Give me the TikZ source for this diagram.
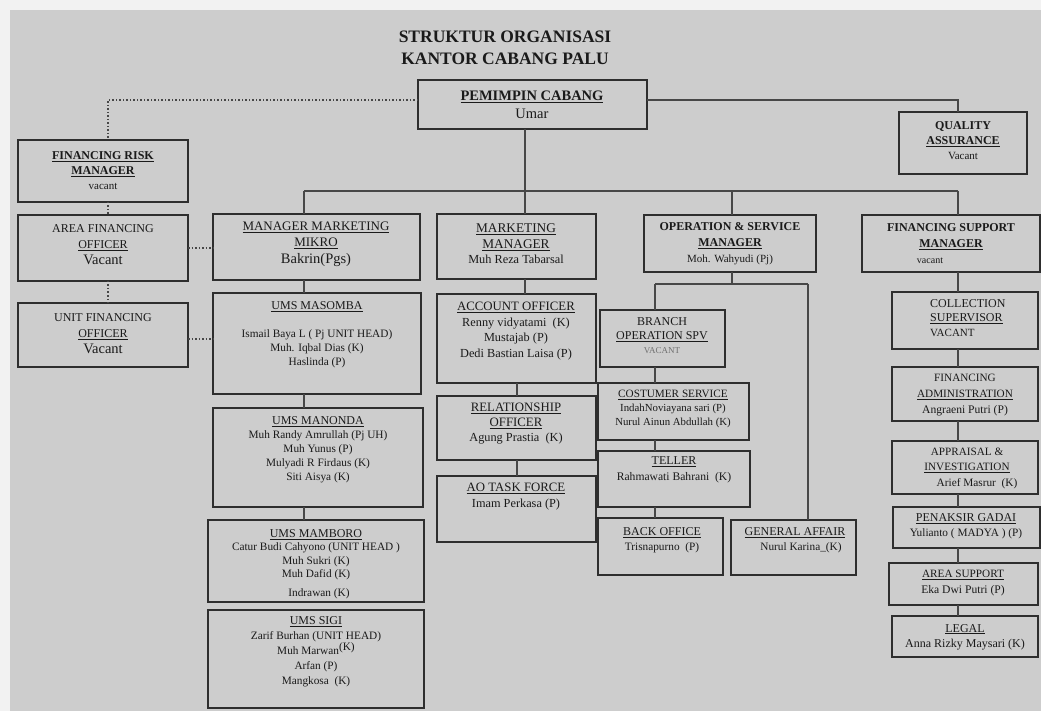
\documentclass[tikz,border=0pt]{standalone}
\usepackage{fontspec}
\setmainfont{Liberation Serif}
\usetikzlibrary{calc}
\definecolor{bgc}{HTML}{CDCDCD}
\definecolor{outc}{HTML}{F2F2F2}
\definecolor{boxc}{HTML}{2E2E2E}
\definecolor{linec}{HTML}{474747}
\definecolor{txtc}{HTML}{1A1A1A}
\definecolor{softc}{HTML}{707070}
\newcommand\xNm{\fontsize{11}{15}\selectfont}
\newcommand\xHd{\fontsize{12}{15}\selectfont}
\newcommand\xHm{\fontsize{12.8}{15}\selectfont}
\newcommand\xHr{\fontsize{11.2}{15}\selectfont}
\newcommand\xBg{\fontsize{14.5}{16}\selectfont}
\newcommand\mkbox[5]{\node[obox, anchor=north west, minimum width={(#4)-(#2)}, minimum height={(#5)-(#3)}] (#1) at (#2,#3) {};}
\tikzset{
  obox/.style={draw=boxc, line width=1.5pt, inner sep=0pt, outer sep=0pt},
  otxt/.style={align=center, text=txtc, inner sep=0pt, font=\xNm},
  conn/.style={draw=linec, line width=1.4pt},
  dconn/.style={draw=linec, line width=1.1pt, dash pattern=on 1.5pt off 2pt},
}
\begin{document}
\begin{tikzpicture}[x=1pt,y=-1pt]
\useasboundingbox (0,0) rectangle (1041,711);
\fill[outc] (0,0) rectangle (1041,711);
\fill[bgc] (10,10) rectangle (1041,711);

% title
\node[otxt, font=\bfseries\fontsize{17.5}{22}\selectfont] (title) at (505,48) {STRUKTUR ORGANISASI\\KANTOR CABANG PALU};

% boxes
\mkbox{pem}{418}{80}{647}{129}
\mkbox{qa}{899}{112}{1027}{174}
\mkbox{frm}{18}{140}{188}{202}
\mkbox{afo}{18}{215}{188}{281}
\mkbox{ufo}{18}{303}{188}{367}
\mkbox{mmm}{213}{214}{420}{280}
\mkbox{masomba}{213}{293}{421}{394}
\mkbox{manonda}{213}{408}{423}{507}
\mkbox{mamboro}{208}{520}{424}{602}
\mkbox{sigi}{208}{610}{424}{708}
\mkbox{mm}{437}{214}{596}{279}
\mkbox{ao}{437}{294}{596}{383}
\mkbox{ro}{437}{396}{596}{460}
\mkbox{aotf}{437}{476}{596}{542}
\mkbox{osm}{644}{215}{816}{272}
\mkbox{bos}{600}{310}{725}{367}
\mkbox{cs}{598}{383}{749}{440}
\mkbox{teller}{598}{451}{750}{507}
\mkbox{bo}{598}{518}{723}{575}
\mkbox{ga}{731}{520}{856}{575}
\mkbox{fsm}{862}{215}{1040}{272}
\mkbox{coll}{892}{292}{1038}{349}
\mkbox{fa}{892}{367}{1038}{421}
\mkbox{app}{892}{441}{1038}{494}
\mkbox{pen}{893}{507}{1040}{548}
\mkbox{asup}{889}{563}{1038}{605}
\mkbox{legal}{892}{616}{1038}{657}

% texts
\node[otxt, font=\fontsize{14.5}{18}\selectfont] (pemT) at (532,105) {{\bfseries\underline{PEMIMPIN CABANG}}\\{\xBg Umar}};
\node[otxt] (qaT) at (963,141) {{\bfseries\xHd QUALITY}\\{\bfseries\xHd\underline{ASSURANCE}}\\Vacant};
\node[otxt] (frmT) at (103,171) {{\bfseries\xHd\underline{FINANCING RISK}}\\{\bfseries\xHd\underline{MANAGER}}\\vacant};
\node[otxt, font=\fontsize{11}{16}\selectfont] (afoT) at (103,245) {{\xHd AREA FINANCING}\\{\xHd\underline{OFFICER}}\\{\xBg Vacant}};
\node[otxt, font=\fontsize{11}{16}\selectfont] (ufoT) at (103,334) {{\xHd UNIT FINANCING}\\{\xHd\underline{OFFICER}}\\{\xBg Vacant}};
\node[otxt, font=\fontsize{11}{16.5}\selectfont] (mmmT) at (316,244) {{\fontsize{13}{15}\selectfont\underline{MANAGER MARKETING}}\\{\fontsize{13}{15}\selectfont\underline{MIKRO}}\\{\xBg Bakrin(Pgs)}};
\node[otxt, font=\fontsize{11.3}{14}\selectfont] (masombaT) at (317,335) {{\xHd\underline{UMS MASOMBA}}\\[14pt]Ismail Baya L ( Pj UNIT HEAD)\\Muh. Iqbal Dias (K)\\Haslinda (P)};
\node[otxt, font=\fontsize{11.3}{14}\selectfont] (manondaT) at (318,450) {{\xHd\underline{UMS MANONDA}}\\Muh Randy Amrullah (Pj UH)\\Muh Yunus (P)\\Mulyadi R Firdaus (K)\\Siti Aisya (K)};
\node[otxt, font=\fontsize{11.3}{13.5}\selectfont] (mamboroT) at (316,564) {{\xHd\underline{UMS MAMBORO}}\\Catur Budi Cahyono (UNIT HEAD )\\Muh Sukri (K)\\Muh Dafid (K)\\[5pt]\hspace*{6pt}Indrawan (K)};
\node[otxt, font=\fontsize{11.3}{15}\selectfont] (sigiT) at (316,652) {{\xHd\underline{UMS SIGI}}\\Zarif Burhan (UNIT HEAD)\\Muh Marwan\raisebox{4pt}{(K)}\\Arfan (P)\\Mangkosa\ \ (K)};
\node[otxt, font=\fontsize{12.3}{15.5}\selectfont] (mmT) at (516,244) {{\fontsize{13.3}{15}\selectfont\underline{MARKETING}}\\{\fontsize{13.3}{15}\selectfont\underline{MANAGER}}\\Muh Reza Tabarsal};
\node[otxt, font=\fontsize{12.3}{15.5}\selectfont] (aoT) at (516,331) {{\xHm\underline{ACCOUNT OFFICER}}\\Renny vidyatami\ \ (K)\\Mustajab (P)\\Dedi Bastian Laisa (P)};
\node[otxt, font=\fontsize{12.3}{15}\selectfont] (roT) at (516,424) {{\xHm\underline{RELATIONSHIP}}\\{\xHm\underline{OFFICER}}\\Agung Prastia\ \ (K)};
\node[otxt, font=\fontsize{12.3}{16}\selectfont] (aotfT) at (516,497) {{\xHm\underline{AO TASK FORCE}}\\Imam Perkasa (P)};
\node[otxt, font=\fontsize{11}{16}\selectfont] (osmT) at (730,244) {{\bfseries\xHd OPERATION \& SERVICE}\\{\bfseries\xHd\underline{MANAGER}}\\Moh. Wahyudi (Pj)};
\node[otxt, font=\fontsize{11}{14}\selectfont] (bosT) at (662,336) {{\xHd BRANCH}\\{\xHd\underline{OPERATION SPV}}\\{\fontsize{9}{10}\selectfont\color{softc}VACANT}};
\node[otxt, font=\fontsize{10.8}{14}\selectfont] (csT) at (673,409) {{\xHr\underline{COSTUMER SERVICE}}\\IndahNoviayana sari (P)\\Nurul Ainun Abdullah (K)};
\node[otxt, font=\fontsize{11.6}{16}\selectfont] (tellerT) at (674,470) {{\xHd\underline{TELLER}}\\Rahmawati Bahrani\ \ (K)};
\node[otxt, font=\fontsize{11.3}{15}\selectfont] (boT) at (662,540) {{\xHd\underline{BACK OFFICE}}\\Trisnapurno\ \ (P)};
\node[otxt, font=\fontsize{11.3}{15}\selectfont] (gaT) at (795,540) {{\xHd\underline{GENERAL AFFAIR}}\\\hspace*{12pt}Nurul Karina\_(K)};
\node[otxt, font=\fontsize{11}{16}\selectfont] (fsmT) at (951,244) {{\bfseries\xHd FINANCING SUPPORT}\\{\bfseries\xHd\underline{MANAGER}}\\{\fontsize{10}{11}\selectfont vacant}\hspace*{42pt}};
\node[otxt, align=left, anchor=west, font=\fontsize{11}{14.5}\selectfont] (collT) at (930,318) {{\xHd COLLECTION}\\{\xHd\underline{SUPERVISOR}}\\VACANT};
\node[otxt, font=\fontsize{11.6}{16}\selectfont] (faT) at (965,395) {{\xHr FINANCING}\\{\xHr\underline{ADMINISTRATION}}\\Angraeni Putri (P)};
\node[otxt, font=\fontsize{11.3}{15.5}\selectfont] (appT) at (967,468) {{\xHr APPRAISAL \&}\\{\xHr\underline{INVESTIGATION}}\\\hspace*{20pt}Arief Masrur\ \ (K)};
\node[otxt, font=\fontsize{11.3}{15}\selectfont] (penT) at (966,526) {{\xHd\underline{PENAKSIR GADAI}}\\Yulianto ( MADYA ) (P)};
\node[otxt, font=\fontsize{11.6}{16}\selectfont] (asupT) at (963,583) {{\xHr\underline{AREA SUPPORT}}\\Eka Dwi Putri (P)};
\node[otxt, font=\fontsize{12}{15}\selectfont] (legalT) at (965,637) {{\xHd\underline{LEGAL}}\\Anna Rizky Maysari (K)};

% column coordinates
\coordinate (py) at (0,100);
\coordinate (dx) at (108,0);
\coordinate (c1) at (304,0);
\coordinate (c2) at (525,0);
\coordinate (c2b) at (517,0);
\coordinate (c3) at (732,0);
\coordinate (c3L) at (655,0);
\coordinate (c3R) at (808,0);
\coordinate (c4) at (958,0);
\coordinate (bL) at (304,191);
\coordinate (bR) at (958,191);
\coordinate (opsbus) at (732,284);
\coordinate (uy) at (0,339);

% solid connectors
\draw[conn] (pem.south -| c2) -- (bL -| c2);
\draw[conn] (bL) -- (bR);
\draw[conn] (bL) -- (mmm.north -| c1);
\draw[conn] (bL -| c2) -- (mm.north -| c2);
\draw[conn] (bL -| c3) -- (osm.north -| c3);
\draw[conn] (bR) -- (fsm.north -| c4);
\draw[conn] (pem.east |- py) -| (qa.north -| c4);

\draw[conn] (mmm.south -| c1) -- (masomba.north -| c1);
\draw[conn] (masomba.south -| c1) -- (manonda.north -| c1);
\draw[conn] (manonda.south -| c1) -- (mamboro.north -| c1);

\draw[conn] (mm.south -| c2) -- (ao.north -| c2);
\draw[conn] (ao.south -| c2b) -- (ro.north -| c2b);
\draw[conn] (ro.south -| c2b) -- (aotf.north -| c2b);

\draw[conn] (osm.south -| c3) -- (opsbus);
\draw[conn] (opsbus -| c3L) -- (opsbus -| c3R);
\draw[conn] (opsbus -| c3L) -- (bos.north -| c3L);
\draw[conn] (opsbus -| c3R) -- (ga.north -| c3R);
\draw[conn] (bos.south -| c3L) -- (cs.north -| c3L);
\draw[conn] (cs.south -| c3L) -- (teller.north -| c3L);
\draw[conn] (teller.south -| c3L) -- (bo.north -| c3L);

\draw[conn] (fsm.south -| c4) -- (coll.north -| c4);
\draw[conn] (coll.south -| c4) -- (fa.north -| c4);
\draw[conn] (fa.south -| c4) -- (app.north -| c4);
\draw[conn] (app.south -| c4) -- (pen.north -| c4);
\draw[conn] (pen.south -| c4) -- (asup.north -| c4);
\draw[conn] (asup.south -| c4) -- (legal.north -| c4);

% dotted connectors
\draw[dconn] (pem.west |- py) -| (frm.north -| dx);
\draw[dconn] (frm.south -| dx) -- (afo.north -| dx);
\draw[dconn] (afo.south -| dx) -- (ufo.north -| dx);
\draw[dconn] (afo.east) -- (afo.east -| mmm.west);
\draw[dconn] (ufo.east |- uy) -- (masomba.west |- uy);
\end{tikzpicture}
\end{document}
